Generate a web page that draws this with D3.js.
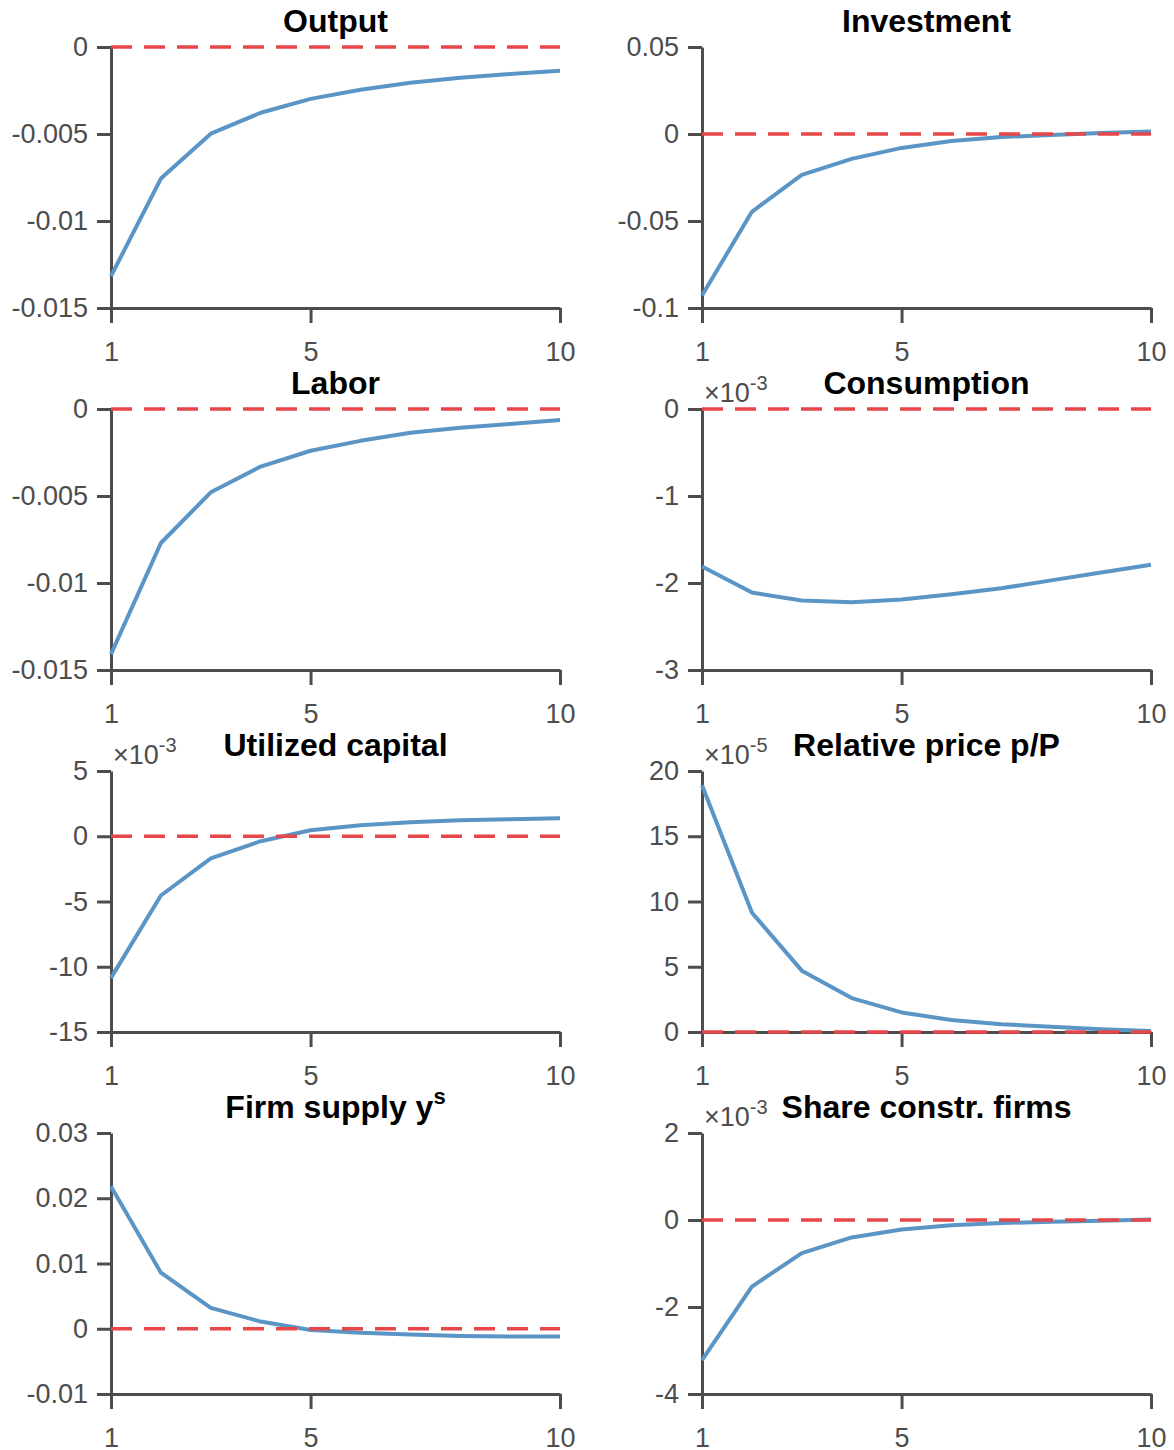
<!DOCTYPE html>
<html>
<head>
<meta charset="utf-8">
<script src="https://cdn.jsdelivr.net/npm/d3@7"></script>
<style>
  body { margin: 0; background: #fff; }
  text { font-family: "Liberation Sans", Arial, Helvetica, sans-serif; }
</style>
</head>
<body>
<script>
// periods after the shock
const periods = [1, 2, 3, 4, 5, 6, 7, 8, 9, 10];
const xTicks = [1, 5, 10];

// impulse responses (values as shown on each axis, i.e. after the x10^k factor)
const output = [-0.01317, -0.00756, -0.00498, -0.00378, -0.00298, -0.00246, -0.00206, -0.00177, -0.00155, -0.00137];
const investment = [-0.0928, -0.0447, -0.0235, -0.0143, -0.0080, -0.0040, -0.0017, -0.0006, 0.0006, 0.0015];
const labor = [-0.01409, -0.0077, -0.00479, -0.00331, -0.0024, -0.00183, -0.00137, -0.00108, -0.00086, -0.00063];
const consumption = [-1.81, -2.11, -2.20, -2.22, -2.19, -2.13, -2.06, -1.97, -1.88, -1.79];
const utilCapital = [-10.85, -4.54, -1.69, -0.38, 0.46, 0.85, 1.08, 1.23, 1.31, 1.38];
const relPrice = [18.9, 9.15, 4.7, 2.6, 1.5, 0.92, 0.6, 0.4, 0.22, 0.08];
const firmSupply = [0.0218, 0.0086, 0.0032, 0.0011, -0.0002, -0.0006, -0.0009, -0.0011, -0.0012, -0.0012];
const shareConstr = [-3.22, -1.53, -0.76, -0.40, -0.22, -0.12, -0.07, -0.04, -0.02, 0.01];

const titles = ["Output", "Investment", "Labor", "Consumption", "Utilized capital", "Relative price p/P", "Firm supply y", "Share constr. firms"];
const series = [output, investment, labor, consumption, utilCapital, relPrice, firmSupply, shareConstr];
const yDomains = [[-0.015, 0], [-0.1, 0.05], [-0.015, 0], [-3, 0], [-15, 5], [0, 20], [-0.01, 0.03], [-4, 2]];
const yTicks = [
  [-0.015, -0.01, -0.005, 0],
  [-0.1, -0.05, 0, 0.05],
  [-0.015, -0.01, -0.005, 0],
  [-3, -2, -1, 0],
  [-15, -10, -5, 0, 5],
  [0, 5, 10, 15, 20],
  [-0.01, 0, 0.01, 0.02, 0.03],
  [-4, -2, 0, 2]
];
const yTickLabels = [
  ["-0.015", "-0.01", "-0.005", "0"],
  ["-0.1", "-0.05", "0", "0.05"],
  ["-0.015", "-0.01", "-0.005", "0"],
  ["-3", "-2", "-1", "0"],
  ["-15", "-10", "-5", "0", "5"],
  ["0", "5", "10", "15", "20"],
  ["-0.01", "0", "0.01", "0.02", "0.03"],
  ["-4", "-2", "0", "2"]
];
const exponents = [null, null, null, "-3", "-3", "-5", null, "-3"];
const titleSup = [null, null, null, null, null, null, "s", null];

const W = 1174, H = 1450;
const colLeft = [111, 702];
const rowTop = [47, 409, 771, 1133];
const plotW = 449, plotH = 261;
const axisColor = "#4d4d4d";
const lineColor = "#5b95c5";
const zeroColor = "#e8474a";

const svg = d3.select("body").append("svg")
  .attr("width", W)
  .attr("height", H);

svg.append("rect").attr("width", W).attr("height", H).attr("fill", "#fff");

series.forEach((vals, i) => {
  const col = i % 2, row = Math.floor(i / 2);
  const g = svg.append("g")
    .attr("transform", `translate(${colLeft[col]},${rowTop[row]})`);

  const x = d3.scaleLinear().domain([1, 10]).range([0, plotW]);
  const y = d3.scaleLinear().domain(yDomains[i]).range([plotH, 0]);

  const xAxis = g.append("g")
    .attr("transform", `translate(0,${plotH})`)
    .call(d3.axisBottom(x).tickValues(xTicks).tickFormat(d => String(d))
      .tickSizeInner(15).tickSizeOuter(0).tickPadding(19));

  const yAxis = g.append("g")
    .call(d3.axisLeft(y).tickValues(yTicks[i]).tickFormat((d, j) => yTickLabels[i][j])
      .tickSizeInner(14).tickSizeOuter(0).tickPadding(9));

  [xAxis, yAxis].forEach(ax => {
    ax.select(".domain").attr("stroke", axisColor).attr("stroke-width", 3);
    ax.selectAll(".tick line").attr("stroke", axisColor).attr("stroke-width", 3);
    ax.selectAll(".tick text")
      .attr("fill", axisColor)
      .attr("font-size", 27)
      .attr("font-family", "Liberation Sans, Arial, sans-serif");
  });

  g.append("path")
    .datum(vals)
    .attr("fill", "none")
    .attr("stroke", lineColor)
    .attr("stroke-width", 4)
    .attr("stroke-linejoin", "round")
    .attr("d", d3.line().x((d, j) => x(periods[j])).y(d => y(d)));

  g.append("line")
    .attr("x1", x(1)).attr("x2", x(10))
    .attr("y1", y(0)).attr("y2", y(0))
    .attr("stroke", zeroColor)
    .attr("stroke-width", 3.5)
    .attr("stroke-dasharray", "21,12");

  const t = g.append("text")
    .attr("x", plotW / 2)
    .attr("y", -15)
    .attr("text-anchor", "middle")
    .attr("font-size", 32)
    .attr("font-weight", "bold")
    .attr("fill", "#000")
    .text(titles[i]);
  if (titleSup[i]) {
    t.append("tspan").attr("dy", -14).attr("font-size", 22).text(titleSup[i]);
  }

  if (exponents[i]) {
    const e = g.append("text")
      .attr("x", 2)
      .attr("y", -7)
      .attr("fill", axisColor)
      .attr("font-size", 27);
    e.append("tspan").text("\u00d710");
    e.append("tspan").attr("dy", -12).attr("font-size", 20).text(exponents[i]);
  }
});
</script>
</body>
</html>
